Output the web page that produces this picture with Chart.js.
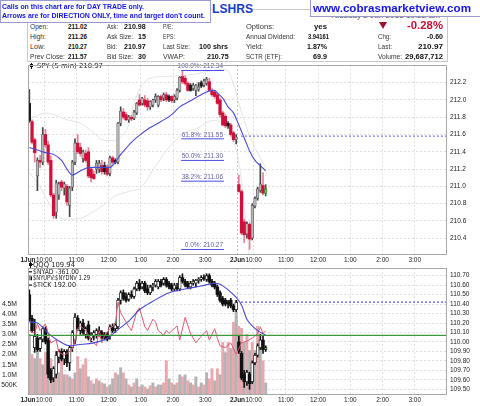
<!DOCTYPE html>
<html>
<head>
<meta charset="utf-8">
<title>SPY 5 min</title>
<script src="https://cdn.jsdelivr.net/npm/chart.js"></script>
<style>
  html, body { margin: 0; padding: 0; background: #fff; }
  #page { position: relative; width: 480px; height: 406px; overflow: hidden; background: #fff; }
  .t { position: absolute; white-space: nowrap; transform-origin: left center; font-family: "Liberation Sans", Arial, sans-serif; }
  .lab { font-size: 6.8px; color: #333; z-index: 3; }
  .val { font-size: 7px; font-weight: bold; color: #111; z-index: 3; }
  .big { font-size: 10px; font-weight: bold; color: #c0103a; z-index: 3; }
  .call { font-size: 7.5px; font-weight: bold; color: #1414e6; z-index: 5; }
  .url { font-size: 11.5px; font-weight: bold; color: #1414e6; z-index: 5; }
  .title { font-size: 12px; font-weight: bold; color: #1c3cc8; background: #fff; z-index: 3; }
  .date { font-size: 6.8px; color: #555; z-index: 1; }
  .box { position: absolute; background: #fff; border: 1px solid #9a9ad0; box-sizing: border-box; z-index: 4; }
  #frame { position: absolute; left: 27px; top: 9px; width: 421px; height: 53px; border: 1px solid #c9c9c9; box-sizing: border-box; z-index: 0; }
  #tri { position: absolute; left: 379px; top: 22px; width: 0; height: 0; border-left: 4px solid transparent; border-right: 4px solid transparent; border-top: 7px solid #9c1030; z-index: 3; }
  canvas { position: absolute; left: 0; }
  #mainChart { top: 58px; z-index: 1; }
  #lowerChart { top: 261px; z-index: 2; }
</style>
</head>
<body>
<div id="page">
  <div id="frame"></div>
  <div class="box" style="left:0;top:0;width:211px;height:23px"></div>
  <div class="box" style="left:310px;top:-1px;width:172px;height:18px"></div>
  <div id="tri"></div>
  <canvas id="mainChart" width="480" height="208"></canvas>
  <canvas id="lowerChart" width="480" height="145"></canvas>
</div>
<script>
// SPY 5 min candles, 1 Jun (bars 0-77) and 2 Jun up to 10:20 (bars 78-88)
const spyOpen = [211.96, 211.75, 211.54, 211.12, 211.30, 211.28, 211.60, 211.48, 211.30, 210.90,
  210.70, 210.90, 211.05, 210.98, 211.00, 210.78, 210.99, 211.28, 211.50, 211.45,
  211.32, 211.38, 211.40, 211.20, 211.14, 211.20, 211.20, 211.24, 211.24, 211.22,
  211.15, 211.33, 211.30, 211.28, 211.73, 211.86, 211.83, 211.77, 211.80, 211.79,
  211.85, 212.00, 211.96, 212.00, 211.99, 211.92, 211.94, 212.00, 211.94, 212.04,
  212.02, 212.06, 212.04, 212.04, 212.00, 212.02, 212.11, 212.27, 212.25, 212.19,
  212.17, 212.13, 212.11, 212.12, 212.20, 212.17, 212.19, 212.21, 212.11, 212.09,
  212.06, 212.00, 211.85, 211.81, 211.73, 211.71, 211.62, 211.54,
  211.02, 210.94, 210.59, 210.45, 210.56, 210.40, 210.77, 210.86, 210.95, 211.01, 210.92];
const spyHigh = [212.12, 211.77, 211.56, 211.33, 211.36, 211.68, 211.66, 211.52, 211.35, 210.92,
  211.07, 211.05, 211.07, 211.05, 211.02, 211.00, 211.30, 211.55, 211.60, 211.50,
  211.42, 211.42, 211.45, 211.22, 211.18, 211.30, 211.30, 211.30, 211.28, 211.25,
  211.35, 211.35, 211.32, 211.74, 211.92, 211.90, 211.86, 211.82, 211.82, 211.88,
  211.97, 212.06, 212.03, 212.05, 212.02, 211.99, 212.01, 212.07, 212.05, 212.06,
  212.08, 212.09, 212.06, 212.05, 212.06, 212.13, 212.27, 212.34, 212.28, 212.21,
  212.19, 212.19, 212.18, 212.20, 212.22, 212.24, 212.26, 212.25, 212.13, 212.11,
  212.08, 212.02, 211.87, 211.83, 211.75, 211.73, 211.64, 211.60,
  211.13, 210.96, 210.62, 210.59, 210.58, 210.80, 210.88, 210.99, 211.26, 211.16, 211.02];
const spyLow = [211.74, 211.49, 211.28, 210.95, 211.22, 211.25, 211.45, 211.25, 210.88, 210.63,
  210.63, 210.85, 210.95, 210.90, 210.78, 210.65, 210.95, 211.25, 211.38, 211.35,
  211.28, 211.28, 211.10, 211.05, 211.08, 211.15, 211.16, 211.14, 211.14, 211.12,
  211.12, 211.26, 211.26, 211.26, 211.70, 211.78, 211.76, 211.74, 211.76, 211.77,
  211.83, 211.93, 211.94, 211.92, 211.88, 211.89, 211.92, 211.97, 211.92, 211.98,
  211.99, 211.98, 211.98, 211.97, 211.97, 212.00, 212.09, 212.19, 212.17, 212.10,
  212.10, 212.11, 212.05, 212.10, 212.14, 212.15, 212.17, 212.10, 212.04, 212.02,
  211.95, 211.80, 211.70, 211.68, 211.67, 211.58, 211.52, 211.49,
  210.93, 210.44, 210.35, 210.40, 210.27, 210.38, 210.75, 210.84, 210.93, 210.90, 210.89];
const spyClose = [211.76, 211.51, 211.39, 211.30, 211.28, 211.60, 211.48, 211.28, 210.90, 210.66,
  211.04, 211.03, 210.99, 211.03, 210.82, 210.98, 211.28, 211.50, 211.40, 211.38,
  211.40, 211.30, 211.12, 211.10, 211.09, 211.27, 211.27, 211.17, 211.17, 211.14,
  211.33, 211.28, 211.28, 211.73, 211.87, 211.80, 211.77, 211.80, 211.78, 211.86,
  211.96, 211.94, 212.02, 211.94, 211.92, 211.98, 212.00, 212.04, 212.04, 212.00,
  212.06, 212.00, 212.00, 211.99, 212.04, 212.11, 212.26, 212.21, 212.19, 212.11,
  212.11, 212.17, 212.17, 212.15, 212.16, 212.22, 212.24, 212.11, 212.06, 212.04,
  211.96, 211.83, 211.71, 211.70, 211.70, 211.60, 211.54, 211.57,
  210.94, 210.46, 210.44, 210.57, 210.39, 210.78, 210.86, 210.97, 211.03, 210.92, 210.97];
const spyPrevClose = 211.57;

// SPY moving average and bands, read at these bar numbers
const spyMaBar = [0, 3, 6, 9, 12, 14, 16, 18, 21, 24, 27, 30, 32, 34, 36, 38, 41, 45, 49, 53, 56, 60, 64, 68, 69, 70, 72, 74, 76, 78, 80, 82, 84, 86, 88];
const spyMa = [211.45, 211.42, 211.39, 211.37, 211.30, 211.20, 211.13, 211.16, 211.21, 211.22, 211.22, 211.22, 211.28, 211.37, 211.44, 211.51, 211.59, 211.68, 211.75, 211.83, 211.92, 211.99, 212.06, 212.11, 212.11, 212.08, 212.02, 211.92, 211.85, 211.71, 211.56, 211.41, 211.30, 211.24, 211.18];
const upperBandBar = [0, 3, 6, 10, 14, 19, 24, 27, 31, 34, 37, 39, 42, 45, 50, 56, 62, 68, 72, 74, 76, 78, 80, 83, 86, 88];
const upperBand = [211.79, 211.82, 211.85, 211.82, 211.77, 211.73, 211.62, 211.54, 211.53, 211.57, 211.71, 211.96, 212.17, 212.25, 212.27, 212.28, 212.30, 212.34, 212.35, 212.33, 212.19, 211.96, 211.76, 211.51, 211.33, 211.22];
const lowerBandBar = [0, 4, 8, 11, 14, 19, 24, 28, 32, 37, 42, 46, 52, 58, 63, 68, 72, 76, 78, 80, 82];
const lowerBand = [211.16, 210.99, 210.77, 210.65, 210.62, 210.63, 210.71, 210.79, 210.89, 210.94, 211.00, 211.19, 211.45, 211.62, 211.68, 211.76, 211.73, 211.51, 211.28, 210.77, 210.16];

// Fibonacci retracement
const fibPct = ['100.0%', '61.8%', '50.0%', '38.2%', '0.0%'];
const fibLevels = [212.34, 211.55, 211.30, 211.06, 210.27];
const spyPriceTicks = [210.4, 210.6, 210.8, 211.0, 211.2, 211.4, 211.6, 211.8, 212.0, 212.2];

// QQQ 5 min candles
const qqqOpen = [110.50, 110.25, 109.94, 110.04, 109.93, 110.03, 110.14, 110.02, 109.70, 109.62,
  109.66, 109.84, 109.90, 109.82, 109.90, 109.78, 109.94, 110.02, 110.25, 110.12,
  110.20, 110.08, 110.18, 110.04, 110.06, 110.08, 110.12, 110.10, 110.08, 110.08,
  110.06, 110.16, 110.14, 110.16, 110.44, 110.52, 110.48, 110.45, 110.50, 110.48,
  110.56, 110.62, 110.58, 110.62, 110.56, 110.52, 110.58, 110.60, 110.58, 110.64,
  110.62, 110.66, 110.62, 110.60, 110.56, 110.58, 110.56, 110.68, 110.64, 110.62,
  110.58, 110.62, 110.62, 110.65, 110.66, 110.68, 110.66, 110.70, 110.64, 110.62,
  110.58, 110.52, 110.46, 110.44, 110.42, 110.44, 110.38, 110.34,
  110.00, 109.88, 109.66, 109.58, 109.66, 109.58, 109.78, 109.86, 109.94, 110.02, 109.92];
const qqqHigh = [110.55, 110.28, 110.24, 110.08, 110.05, 110.16, 110.16, 110.04, 109.72, 109.74,
  109.90, 109.92, 109.93, 109.92, 109.92, 109.96, 110.12, 110.30, 110.28, 110.22,
  110.24, 110.16, 110.22, 110.10, 110.12, 110.14, 110.16, 110.12, 110.10, 110.10,
  110.18, 110.19, 110.20, 110.46, 110.54, 110.55, 110.52, 110.52, 110.54, 110.58,
  110.64, 110.66, 110.64, 110.64, 110.60, 110.60, 110.62, 110.66, 110.66, 110.66,
  110.68, 110.68, 110.64, 110.62, 110.62, 110.62, 110.70, 110.72, 110.66, 110.64,
  110.64, 110.66, 110.66, 110.68, 110.70, 110.71, 110.72, 110.72, 110.66, 110.64,
  110.60, 110.54, 110.48, 110.46, 110.44, 110.46, 110.40, 110.44,
  110.06, 109.90, 109.70, 109.70, 109.68, 109.80, 109.88, 109.98, 110.08, 110.06, 109.96];
const qqqLow = [110.22, 110.10, 109.89, 109.90, 109.90, 110.00, 109.98, 109.62, 109.57, 109.58,
  109.62, 109.78, 109.80, 109.76, 109.74, 109.70, 109.90, 109.98, 110.12, 110.08,
  110.08, 110.04, 110.02, 110.00, 110.02, 110.04, 110.06, 110.03, 110.02, 110.01,
  110.03, 110.10, 110.10, 110.14, 110.40, 110.44, 110.42, 110.43, 110.46, 110.46,
  110.54, 110.54, 110.56, 110.52, 110.50, 110.50, 110.54, 110.58, 110.56, 110.58,
  110.60, 110.58, 110.56, 110.54, 110.54, 110.54, 110.54, 110.62, 110.58, 110.56,
  110.56, 110.60, 110.58, 110.62, 110.64, 110.65, 110.64, 110.62, 110.58, 110.56,
  110.48, 110.42, 110.38, 110.38, 110.36, 110.36, 110.32, 110.32,
  109.88, 109.60, 109.52, 109.54, 109.50, 109.56, 109.76, 109.84, 109.92, 109.88, 109.90];
const qqqClose = [110.24, 110.12, 110.06, 109.92, 110.03, 110.14, 110.00, 109.66, 109.60, 109.72,
  109.86, 109.90, 109.82, 109.90, 109.78, 109.94, 110.10, 110.26, 110.14, 110.20,
  110.10, 110.14, 110.04, 110.08, 110.10, 110.12, 110.08, 110.04, 110.04, 110.03,
  110.16, 110.12, 110.18, 110.44, 110.52, 110.46, 110.44, 110.50, 110.48, 110.56,
  110.62, 110.56, 110.62, 110.54, 110.52, 110.58, 110.60, 110.64, 110.64, 110.60,
  110.66, 110.60, 110.58, 110.56, 110.60, 110.56, 110.68, 110.64, 110.60, 110.58,
  110.62, 110.64, 110.65, 110.66, 110.68, 110.67, 110.70, 110.64, 110.60, 110.58,
  110.50, 110.44, 110.40, 110.40, 110.40, 110.38, 110.34, 110.42,
  109.90, 109.62, 109.58, 109.68, 109.56, 109.78, 109.86, 109.96, 110.02, 109.92, 109.94];
const qqqMaBar = [0, 3, 7, 11, 15, 18, 24, 29, 33, 37, 41, 46, 52, 58, 64, 69, 71, 74, 77, 79, 81, 83, 85, 88];
const qqqMa = [110.21, 110.20, 110.09, 110.01, 109.96, 109.97, 109.99, 110.04, 110.13, 110.22, 110.34, 110.43, 110.52, 110.56, 110.59, 110.62, 110.61, 110.55, 110.47, 110.39, 110.24, 110.17, 110.12, 110.07];
const qqqPrevClose = 110.42;
const qqqPriceTicks = [109.5, 109.6, 109.7, 109.8, 109.9, 110.0, 110.1, 110.2, 110.3, 110.4, 110.5, 110.6, 110.7];

// volume in millions, 1 = up bar (gray), 0 = down bar (pink)
const volumeM = [3.0, 2.0, 1.8, 2.7, 1.8, 1.5, 2.1, 2.1, 1.8, 1.2,
  1.3, 1.1, 1.8, 1.0, 1.0, 0.9, 0.8, 1.1, 1.9, 1.3,
  1.5, 1.8, 0.9, 0.7, 0.55, 0.8, 0.7, 0.6, 0.55, 0.4,
  0.5, 0.8, 1.1, 1.0, 1.35, 1.1, 0.8, 0.5, 0.4, 0.6,
  0.8, 0.4, 0.5, 0.4, 0.3, 0.45, 0.6, 0.4, 0.5, 0.5,
  0.6, 1.7, 0.8, 0.6, 0.5, 0.6, 1.0, 0.9, 1.0, 0.7,
  0.6, 0.5, 0.9, 0.4, 0.6, 0.5, 1.1, 0.8, 1.3, 0.7,
  1.3, 1.0, 2.6, 2.1, 2.6, 2.3, 3.6, 4.1,
  3.4, 3.3, 2.6, 3.0, 2.2, 2.6, 2.2, 3.4, 2.5, 1.7, 0.6];
const volumeUp = [1, 0, 1, 1, 0, 1, 0, 1, 0, 1,
  0, 1, 0, 1, 0, 1, 0, 1, 0, 1,
  0, 0, 1, 0, 1, 0, 1, 0, 1, 0,
  1, 1, 0, 1, 1, 0, 1, 0, 1, 0,
  1, 0, 1, 0, 1, 0, 1, 0, 1, 1,
  0, 0, 1, 0, 1, 0, 1, 0, 1, 0,
  1, 0, 1, 0, 1, 0, 1, 0, 0, 1,
  0, 1, 0, 1, 0, 1, 0, 1,
  0, 0, 1, 0, 1, 0, 1, 0, 1, 0, 1];
const volumeTicks = [0.5, 1.0, 1.5, 2.0, 2.5, 3.0, 3.5, 4.0, 4.5];

// $TICK, read at these bar numbers
const tickBar = [0, 2, 3, 4, 6, 8, 10, 11, 13, 16, 17, 18, 19, 21, 22, 23, 25, 26, 27, 28,
  30, 32, 33, 34, 36, 37, 38, 40, 41, 43, 44, 46, 47, 48, 50, 51, 52, 55, 56, 58,
  60, 62, 64, 66, 67, 69, 70, 71, 73, 75, 77, 79, 81, 83, 85, 86, 87, 88];
const tickValue = [200, 80, 480, 200, 480, -320, -200, -720, -840, -600, -200, 280, 400, 200, 0, -200, -440, 200, -320, 0,
  280, 480, 1400, 960, 560, 360, 200, 1000, 1160, 360, 200, 680, 560, 200, 0, 200, 80, 400, -200, 760,
  80, -320, -40, 200, -200, 280, -120, -440, -520, -320, -800, -320, -240, -120, 80, 360, 80, 192];

// time axis: one 5 min bar per unit, two sessions of 78 bars
const timeTickBars = [-0.5, 5.5, 17.5, 29.5, 41.5, 53.5, 65.5, 77.5, 83.5, 95.5, 107.5, 119.5, 131.5, 143.5];
const timeTickLabels = ['1Jun', '10:00', '11:00', '12:00', '1:00', '2:00', '3:00', '2Jun', '10:00', '11:00', '12:00', '1:00', '2:00', '3:00'];

// ---------------- header texts ----------------
const r1 = 26.7, r2 = 36.7, r3 = 46.7, r4 = 56.5;
const headerItems = [
  ['Calls on this chart are for DAY TRADE only.', 2, 144, 6.7, 'call'],
  ["Arrows are for DIRECTION ONLY, time and target don't count.", 2, 205, 16, 'call'],
  ['LSHRS', 212, 253, 9, 'title'],
  ['www.cobrasmarketview.com', 313, 471, 8.3, 'url'],
  ['Tuesday 2 Jun 2015 10:22 am', 330, 440, 15.8, 'date'],
  ['Open:', 30, 48, r1, 'lab'], ['211.02', 68.3, 87.3, r1, 'val'],
  ['High:', 30, 46, r2, 'lab'], ['211.26', 68.3, 87.3, r2, 'val'],
  ['Low:', 30, 45, r3, 'lab'], ['210.27', 68.3, 87.3, r3, 'val'],
  ['Prev Close:', 30, 65, r4, 'lab'], ['211.57', 68.3, 87.3, r4, 'val'],
  ['Ask:', 107, 118, r1, 'lab'], ['210.98', 124, 145.7, r1, 'val'],
  ['Ask Size:', 107, 133, r2, 'lab'], ['15', 138.3, 146.3, r2, 'val'],
  ['Bid:', 107, 117, r3, 'lab'], ['210.97', 124, 145.7, r3, 'val'],
  ['Bid Size:', 107, 133, r4, 'lab'], ['30', 138.3, 146.3, r4, 'val'],
  ['P/E:', 163, 173, r1, 'lab'],
  ['EPS:', 163, 175, r2, 'lab'],
  ['Last Size:', 163, 190, r3, 'lab'], ['100 shrs', 199.3, 228.3, r3, 'val'],
  ['VWAP:', 163, 185, r4, 'lab'], ['210.75', 206.7, 228.3, r4, 'val'],
  ['Options:', 246, 274, r1, 'lab'], ['yes', 314, 327, r1, 'val'],
  ['Annual Dividend:', 246, 295, r2, 'lab'], ['3.94161', 308, 329, r2, 'val'],
  ['Yield:', 246, 263, r3, 'lab'], ['1.87%', 307, 327, r3, 'val'],
  ['SCTR (ETF):', 246, 282, r4, 'lab'], ['69.9', 313, 327, r4, 'val'],
  ['-0.28%', 407, 443, 26, 'big'],
  ['Chg:', 378, 391, r2, 'lab'], ['-0.60', 427, 443, r2, 'val'],
  ['Last:', 378, 392, r3, 'lab'], ['210.97', 418, 443, r3, 'val'],
  ['Volume:', 378, 402, r4, 'lab'], ['29,687,712', 405, 443, r4, 'val']
];

const page = document.getElementById('page');
headerItems.forEach(([text, x0, x1, yc, cls]) => {
    const el = document.createElement('div');
    el.className = 't ' + cls;
    el.textContent = text;
    el.style.left = x0 + 'px';
    el.style.lineHeight = '12px';
    el.style.top = (yc - 6) + 'px';
    page.appendChild(el);
    const w = el.getBoundingClientRect().width;
    if (w > 0) el.style.transform = 'scaleX(' + ((x1 - x0) / w) + ')';
});

// ---------------- charts ----------------
const family = '"Liberation Sans", Arial, sans-serif';
Chart.defaults.font.family = family;
Chart.defaults.color = '#222';

function timeAxis() {
    return {
        type: 'linear',
        min: -0.5,
        max: 155.5,
        offset: false,
        afterBuildTicks: axis => { axis.ticks = timeTickBars.map(v => ({ value: v })); },
        afterFit: axis => { axis.height = 11; },
        ticks: {
            autoSkip: false,
            maxRotation: 0,
            minRotation: 0,
            padding: 1,
            color: '#222',
            callback: (v, i) => timeTickLabels[i],
            font: c => ({
                size: 6.5,
                family: family,
                weight: (timeTickLabels[c.index] || '').indexOf('Jun') > 0 ? 'bold' : 'normal'
            })
        },
        grid: {
            offset: false,
            drawTicks: false,
            color: c => (c.tick && c.tick.value === 77.5) ? '#bcbcbc' : '#dedede'
        },
        border: { display: false, dash: [2, 2] }
    };
}

function priceAxis(min, max, ticks, digits) {
    return {
        position: 'right',
        min: min,
        max: max,
        beginAtZero: false,
        afterBuildTicks: axis => { axis.ticks = ticks.map(v => ({ value: v })); },
        afterFit: axis => { axis.width = 33; },
        ticks: { autoSkip: false, padding: 3, color: '#222', font: { size: 6.5 }, callback: v => Number(v).toFixed(digits) },
        grid: { drawTicks: false, color: '#dedede' },
        border: { display: false, dash: [2, 2] }
    };
}

// frame round each panel
const framePlugin = {
    id: 'frame',
    afterDraw(chart) {
        const { ctx, chartArea: a } = chart;
        ctx.save();
        ctx.strokeStyle = '#a8a8a8';
        ctx.lineWidth = 1;
        ctx.strokeRect(Math.round(a.left) + 0.5, Math.round(a.top) + 0.5, Math.round(a.right - a.left) - 1, Math.round(a.bottom - a.top) - 1);
        ctx.restore();
    }
};

function fitText(ctx, text, x, y, w) {
    const m = ctx.measureText(text).width;
    ctx.save();
    ctx.translate(x, y);
    ctx.scale(w / m, 1);
    ctx.fillText(text, 0, 0);
    ctx.restore();
}

function candleIcon(ctx, x, y) {
    ctx.fillStyle = '#111';
    ctx.fillRect(x + 1, y - 3, 1, 6);
    ctx.fillRect(x, y - 2, 3, 3);
    ctx.fillRect(x + 3, y - 1, 1, 1);
}

const mainText = {
    id: 'mainText',
    afterDatasetsDraw(chart) {
        const { ctx, scales: { x, y } } = chart;
        ctx.save();
        ctx.textBaseline = 'middle';
        ctx.textAlign = 'right';
        ctx.font = '6.5px ' + family;
        ctx.fillStyle = '#5f5fa8';
        const right = x.getPixelForValue(72.5) - 1;
        fibLevels.forEach((lv, i) => {
            ctx.fillText(fibPct[i] + ': ' + lv.toFixed(2), right, y.getPixelForValue(lv) - 4);
        });
        ctx.textAlign = 'left';
        ctx.font = '7px "DejaVu Sans", sans-serif';
        candleIcon(ctx, 30, 8);
        ctx.fillStyle = '#222';
        fitText(ctx, 'SPY (5 min) ' + spyClose[spyClose.length - 1].toFixed(2), 37, 8, 66);
        ctx.restore();
    }
};

const lowerText = {
    id: 'lowerText',
    afterDatasetsDraw(chart) {
        const { ctx } = chart;
        ctx.save();
        ctx.textBaseline = 'middle';
        ctx.textAlign = 'left';
        ctx.font = '7px "DejaVu Sans", sans-serif';
        const rows = [
            ['QQQ ' + qqqClose[qqqClose.length - 1].toFixed(2), 4, 42],
            ['$NYAD -361.00', 10.7, 46],
            ['$NYUPV:$NYDNV 1.29', 17.3, 57],
            ['$TICK ' + tickValue[tickValue.length - 1].toFixed(2), 24, 43]
        ];
        candleIcon(ctx, 29, rows[0][1]);
        ctx.fillStyle = '#111';
        ctx.fillRect(28, rows[1][1] - 0.5, 4, 1.2);
        ctx.fillRect(28, rows[2][1] - 1, 1, 3);
        ctx.fillRect(29.5, rows[2][1] - 3, 1, 5);
        ctx.fillRect(31, rows[2][1] - 2, 1, 4);
        ctx.fillRect(28, rows[3][1] - 0.5, 4, 1.2);
        ctx.fillStyle = '#222';
        rows.forEach(([t, y, w]) => fitText(ctx, t, 33, y, w));
        ctx.restore();
    }
};

const lastIndex = spyClose.length - 1;

// SPY colours: red = close below previous close, black = filled above, gray = hollow
const spyBodyColor = spyClose.map((c, i) => {
    if (i === lastIndex) return '#72c24e';
    const prev = i === 0 ? spyPrevClose : spyClose[i - 1];
    if (c >= spyOpen[i]) return '#b9b9b9';
    return c < prev ? '#d0103a' : '#1b1b1b';
});
const spyBorderColor = spyBodyColor.map(c => c === '#b9b9b9' ? '#5a5a5a' : (c === '#72c24e' ? '#2d6a2d' : c));
const spyWickColor = spyBodyColor.map(c => c === '#d0103a' ? '#e47f97' : (c === '#72c24e' ? '#2d6a2d' : '#444'));

function lineSet(xs, ys, color, width, extra) {
    return Object.assign({
        type: 'line',
        data: xs.map((x, i) => ({ x: x, y: ys[i] })),
        borderColor: color,
        borderWidth: width,
        pointRadius: 0,
        fill: false,
        cubicInterpolationMode: 'monotone'
    }, extra || {});
}

new Chart(document.getElementById('mainChart'), {
    type: 'bar',
    data: {
        datasets: [
            ...fibLevels.map(lv => lineSet([56.5, 72.5], [lv, lv], '#4b4be6', 1)),
            lineSet([78.8, 155.5], [spyPrevClose + 0.01, spyPrevClose + 0.01], '#7b7bf5', 1.3, { borderDash: [2, 2] }),
            lineSet(spyMaBar, spyMa, '#4a4ad2', 1.1),
            {
                type: 'bar',
                data: spyOpen.map((o, i) => ({ x: i, y: [o, spyClose[i]] })),
                backgroundColor: spyBodyColor,
                borderColor: spyBorderColor,
                borderWidth: spyBodyColor.map(c => c === '#b9b9b9' || c === '#72c24e' ? 0.7 : 0),
                borderSkipped: false,
                barThickness: 2.6,
                minBarLength: 1,
                grouped: false
            },
            {
                type: 'bar',
                data: spyLow.map((l, i) => ({ x: i, y: [l, spyHigh[i]] })),
                backgroundColor: spyWickColor,
                barThickness: 1,
                grouped: false
            },
            lineSet(upperBandBar, upperBand, '#e0e6e0', 1),
            lineSet(lowerBandBar, lowerBand, '#e0e6e0', 1)
        ]
    },
    options: {
        responsive: false,
        animation: false,
        events: [],
        layout: { padding: { left: 28, top: 3, right: 0, bottom: 0 } },
        plugins: { legend: { display: false }, tooltip: { enabled: false } },
        scales: {
            x: timeAxis(),
            y: priceAxis(210.206, 212.405, spyPriceTicks, 1)
        }
    },
    plugins: [framePlugin, mainText]
});

const qqqFilled = qqqClose.map((c, i) => c < qqqOpen[i]);
const qqqBodyColor = qqqClose.map((c, i) => i === lastIndex ? '#7ac85a' : (qqqFilled[i] ? '#111' : '#fff'));

new Chart(document.getElementById('lowerChart'), {
    type: 'bar',
    data: {
        datasets: [
            lineSet([78.8, 155.5], [qqqPrevClose, qqqPrevClose], '#5a5af0', 1.2, { borderDash: [2, 2] }),
            lineSet([-0.5, 155.5], [0, 0], '#3c9a3c', 1.2, { yAxisID: 'yTick' }),
            lineSet(qqqMaBar, qqqMa, '#4a4ad2', 1.1),
            lineSet(tickBar, tickValue, '#e05a74', 1, { yAxisID: 'yTick', cubicInterpolationMode: 'default', tension: 0 }),
            {
                type: 'bar',
                data: qqqOpen.map((o, i) => ({ x: i, y: [o, qqqClose[i]] })),
                backgroundColor: qqqBodyColor,
                borderColor: '#111',
                borderWidth: qqqFilled.map(f => f ? 0 : 0.8),
                borderSkipped: false,
                barThickness: 2.8,
                minBarLength: 1,
                grouped: false
            },
            {
                type: 'bar',
                data: qqqLow.map((l, i) => ({ x: i, y: [l, qqqHigh[i]] })),
                backgroundColor: '#111',
                barThickness: 1,
                grouped: false
            },
            {
                type: 'bar',
                yAxisID: 'yVol',
                data: volumeM.map((v, i) => ({ x: i, y: v })),
                backgroundColor: volumeUp.map(u => u ? '#b3b3b3' : '#e7a8ae'),
                barThickness: 2.3,
                grouped: false
            }
        ]
    },
    options: {
        responsive: false,
        animation: false,
        events: [],
        layout: { padding: 0 },
        plugins: { legend: { display: false }, tooltip: { enabled: false } },
        scales: {
            x: timeAxis(),
            y: priceAxis(109.44, 110.78, qqqPriceTicks, 2),
            yVol: {
                position: 'left',
                min: 0,
                max: 6.28,
                beginAtZero: true,
                afterBuildTicks: axis => { axis.ticks = volumeTicks.map(v => ({ value: v })); },
                afterFit: axis => { axis.width = 28; },
                ticks: {
                    autoSkip: false,
                    padding: 3,
                    color: '#222',
                    font: { size: 6.8 },
                    callback: v => v < 1 ? Math.round(v * 1000) + 'K' : Number(v).toFixed(1) + 'M'
                },
                grid: { display: false },
                border: { display: false }
            },
            yTick: { display: false, min: -2520, max: 2840 }
        }
    },
    plugins: [framePlugin, lowerText]
});
</script>
</body>
</html>
